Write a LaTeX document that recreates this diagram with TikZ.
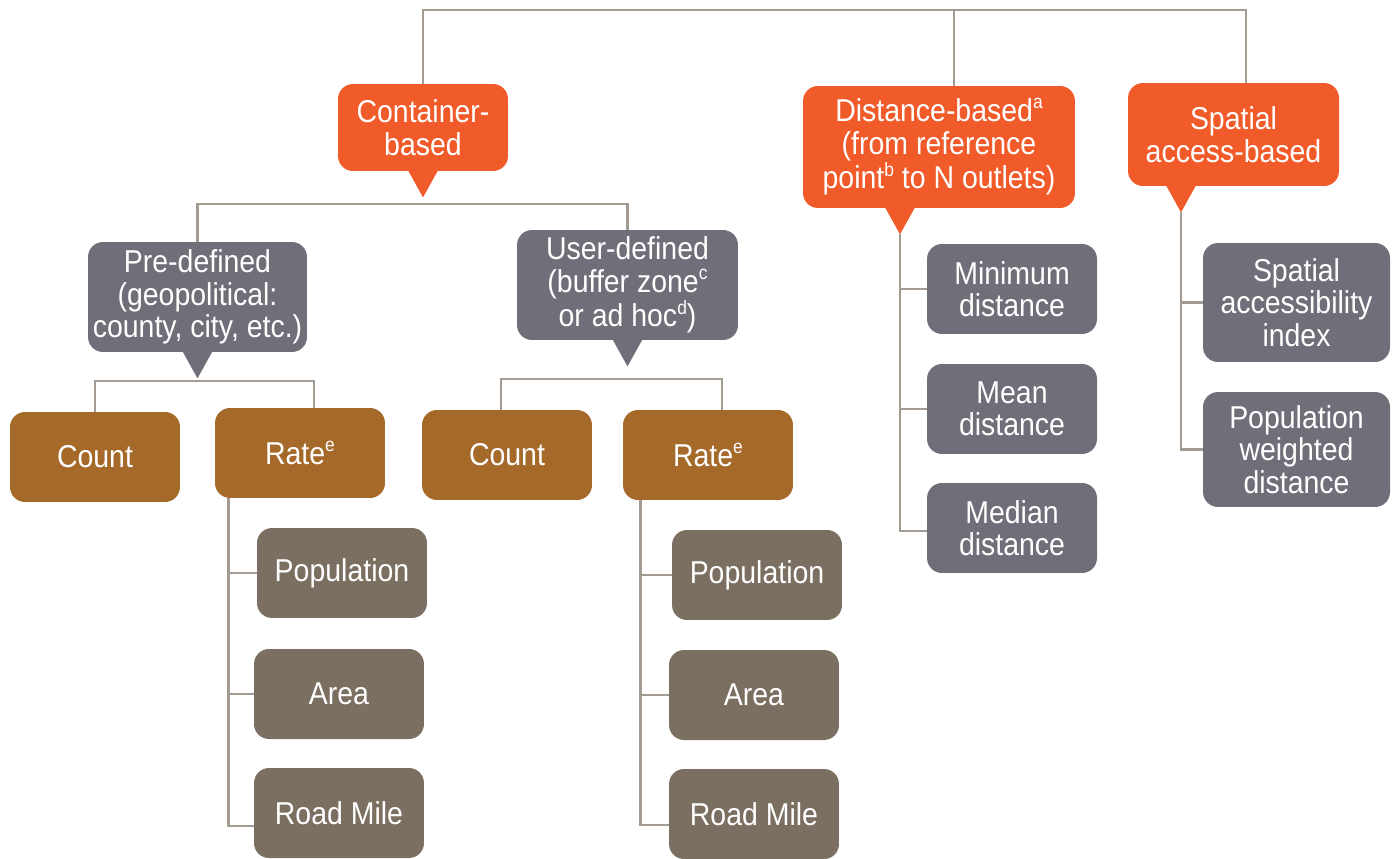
\documentclass[tikz,border=0pt]{standalone}
\usepackage{fontspec}
\setmainfont[FakeStretch=0.9]{Liberation Sans}
\usetikzlibrary{positioning,calc}

\definecolor{hot}{HTML}{F15A29}
\definecolor{slate}{HTML}{6E6F79}
\definecolor{rust}{HTML}{A5692A}
\definecolor{taupe}{HTML}{7B6F61}
\definecolor{linegray}{HTML}{A39A92}

\newcommand{\fnmark}[1]{\raisebox{0.75ex}{\fontsize{11}{11}\selectfont #1}}

\begin{document}
\begin{tikzpicture}[x=0.02cm, y=-0.02cm,
	box/.style	= {rounded corners=0.3cm, text=white, align=center, inner sep=0pt,
			   font=\fontsize{18}{18.5}\selectfont},
	catbox/.style	= {box, fill=hot},
	subbox/.style	= {box, fill=slate},
	kindbox/.style	= {box, fill=rust, minimum width=3.4cm, minimum height=1.8cm},
	leafbox/.style	= {box, fill=taupe, minimum width=3.4cm, minimum height=1.8cm},
	link/.style	= {draw=linegray, line width=1.4pt}]
	\useasboundingbox (0,0) rectangle (1395,858);

	% main categories
	\node	(cont)	[catbox, minimum width=3.4cm,  minimum height=1.74cm]	at (423,127.5)	{Container-\\based};
	\node	(dist)	[catbox, minimum width=5.44cm, minimum height=2.44cm]	at (939,147)	{Distance-based\fnmark{a}\\(from reference\\point\fnmark{b} to N outlets)};
	\node	(spat)	[catbox, minimum width=4.22cm, minimum height=2.06cm]	at (1233.5,134.5)	{Spatial\\access-based};

	% container types
	\node	(pre)	[subbox, minimum width=4.38cm, minimum height=2.2cm]	at (197.5,297)	{Pre-defined\\(geopolitical:\\county, city, etc.)};
	\node	(user)	[subbox, minimum width=4.42cm, minimum height=2.2cm]	at (627.5,285)	{User-defined\\(buffer zone\fnmark{c}\\or ad hoc\fnmark{d})};

	\node	(cnt1)	[kindbox]	at (95,457)	{Count};
	\node	(rate1)	[kindbox]	at (300,453)	{Rate\fnmark{e}};
	\node	(cnt2)	[kindbox]	at (507,455)	{Count};
	\node	(rate2)	[kindbox]	at (708,455)	{Rate\fnmark{e}};

	\node	(pop1)	[leafbox]	at (342,573)	{Population};
	\node	(area1)	[leafbox]	at (339,694)	{Area};
	\node	(road1)	[leafbox]	at (339,813)	{Road Mile};
	\node	(pop2)	[leafbox]	at (757,575)	{Population};
	\node	(area2)	[leafbox]	at (754,695)	{Area};
	\node	(road2)	[leafbox]	at (754,814)	{Road Mile};

	% distance and access measures
	\node	(min)	[subbox, minimum width=3.4cm, minimum height=1.8cm]	at (1012,289)	{Minimum\\distance};
	\node	(mean)	[subbox, minimum width=3.4cm, minimum height=1.8cm]	at (1012,409)	{Mean\\distance};
	\node	(med)	[subbox, minimum width=3.4cm, minimum height=1.8cm]	at (1012,528)	{Median\\distance};
	\node	(sai)	[subbox, minimum width=3.74cm, minimum height=2.38cm]	at (1296.5,302.5)	{Spatial\\accessibility\\index};
	\node	(pwd)	[subbox, minimum width=3.74cm, minimum height=2.3cm]	at (1296.5,449.5)	{Population\\weighted\\distance};

	% callout tails
	\foreach \n/\dx/\c in {cont/0/hot, dist/-39/hot, spat/-52.5/hot, pre/0/slate, user/0/slate} {
		\fill[\c] ($(\n.south)+(\dx-15,-1)$) -- ($(\n.south)+(\dx,26)$) -- ($(\n.south)+(\dx+15,-1)$) -- cycle;
		\coordinate (\n-tip) at ($(\n.south)+(\dx,26)$);
	}

	\coordinate	(bar0)	at (954,10);
	\coordinate	(bar1)	at (423,204);
	\coordinate	(bar2)	at (198,381);
	\coordinate	(bar3)	at (627,379);
	\coordinate	(dpin)	at ($(dist.north)+(15,0)$);
	\coordinate	(spin)	at ($(spat.north)+(12.5,0)$);
	\coordinate	(r1top)	at ($(rate1.north)+(14,0)$);
	\coordinate	(c2top)	at ($(cnt2.north)+(-6,0)$);
	\coordinate	(r2top)	at ($(rate2.north)+(14,0)$);
	\coordinate	(r1foot) at ($(rate1.south west)+(14,0)$);
	\coordinate	(r2foot) at ($(rate2.south west)+(18,0)$);

	\draw[link] (cont.north) |- (bar0) -| (spin);
	\draw[link] (dpin) -- (dpin |- bar0);

	\draw[link] (pre.north) |- (bar1) -| (user.north);
	\draw[link] (cnt1.north) |- (bar2) -| (r1top);
	\draw[link] (c2top) |- (bar3) -| (r2top);

	\draw[link] (r1foot) |- ($(road1.west)+(0,13)$);
	\draw[link] (pop1.west) -- (pop1.west -| r1foot);
	\draw[link] (area1.west) -- (area1.west -| r1foot);
	\draw[link] (r2foot) |- ($(road2.west)+(0,11)$);
	\draw[link] (pop2.west) -- (pop2.west -| r2foot);
	\draw[link] (area2.west) -- (area2.west -| r2foot);

	\draw[link] (dist-tip) |- ($(med.west)+(0,3)$);
	\draw[link] (min.west) -- (min.west -| dist-tip);
	\draw[link] (mean.west) -- (mean.west -| dist-tip);
	\draw[link] (spat-tip) |- (pwd.west);
	\draw[link] (sai.west) -- (sai.west -| spat-tip);
\end{tikzpicture}
\end{document}
